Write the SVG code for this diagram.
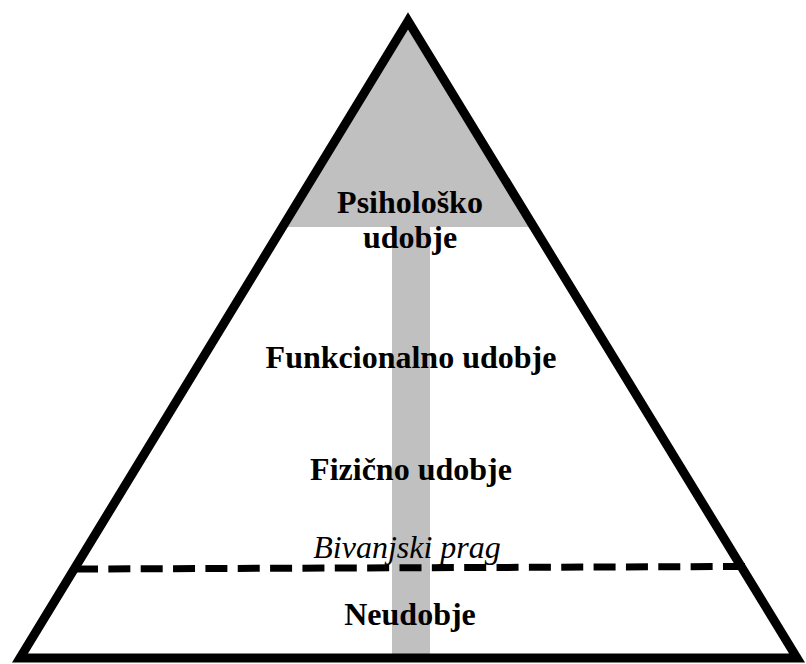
<svg xmlns="http://www.w3.org/2000/svg" width="806" height="664" viewBox="0 0 806 664">
<style>
.lbl{font-family:"Liberation Serif","Times New Roman",serif;font-size:32px;font-weight:bold;fill:#000;text-anchor:middle}
.it{font-family:"Liberation Serif","Times New Roman",serif;font-size:32px;font-style:italic;fill:#000;text-anchor:middle}
.gray{fill:#c0c0c0}
</style>
<rect width="806" height="664" fill="#fff"/>
<g id="shading">
<polygon class="gray" points="408,21 282,227 534,227"/>
<rect class="gray" x="392" y="227" width="38" height="431"/>
</g>
<g id="connectors">
<line x1="76" y1="569" x2="745" y2="566.5" stroke="#000" stroke-width="7" stroke-dasharray="22 10.35"/>
</g>
<g id="pyramid">
<polygon points="408,21 20,658 797,658" fill="none" stroke="#000" stroke-width="9" stroke-linejoin="miter" stroke-miterlimit="10"/>
</g>
<g id="psiholosko">
<text class="lbl" x="410" y="213">Psihološko</text>
<text class="lbl" x="410" y="248">udobje</text>
</g>
<g id="funkcionalno">
<text class="lbl" x="411" y="368">Funkcionalno udobje</text>
</g>
<g id="fizicno">
<text class="lbl" x="411" y="480">Fizično udobje</text>
</g>
<g id="prag">
<text class="it" x="407" y="558">Bivanjski prag</text>
</g>
<g id="neudobje">
<text class="lbl" x="410" y="625">Neudobje</text>
</g>
</svg>
